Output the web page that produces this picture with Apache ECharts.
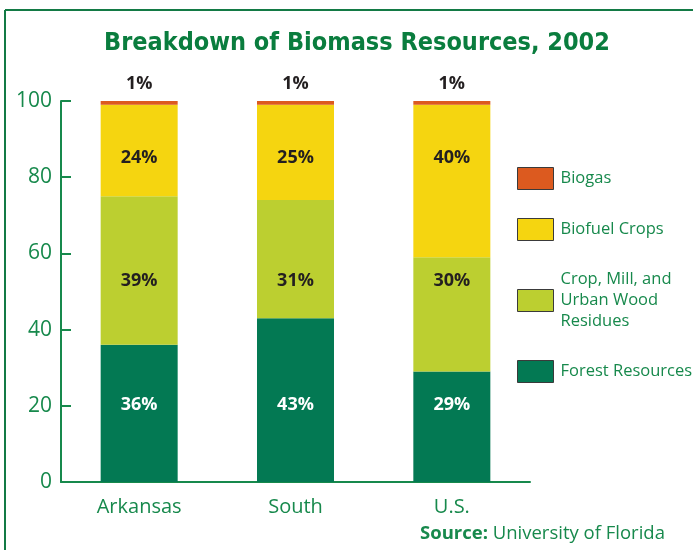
<!DOCTYPE html>
<html>
<head>
<meta charset="utf-8">
<script src="https://cdn.jsdelivr.net/npm/echarts@6/dist/echarts.min.js"></script>
<style>
  html, body { margin: 0; padding: 0; background: #fff; }
  #chart { width: 693px; height: 550px; }
</style>
</head>
<body>
<div id="chart"></div>
<script>
// regions on the x axis
const regions = ["Arkansas", "South", "U.S."];
// shares in percent, bottom to top
const forest = [36, 43, 29];
const residues = [39, 31, 30];
const biofuel = [24, 25, 40];
const biogas = [1, 1, 1];
const yTicks = [0, 20, 40, 60, 80, 100];

const green = "#17894c";
const darkText = "#231f20";

var chart = echarts.init(document.getElementById("chart"));

function seg(name, data, color) {
  return {
    name: name,
    type: "bar",
    stack: "total",
    barWidth: 77,
    data: data,
    itemStyle: { color: color },
  };
}

// the original prints the labels of each layer on one common height
function labels(data, level, color) {
  return {
    type: "scatter",
    symbolSize: 0,
    silent: true,
    z: 5,
    itemStyle: { opacity: 1 },
    data: data.map(function (v, i) {
      return { value: [regions[i], level], pct: v };
    }),
    label: {
      show: true,
      position: "inside",
      formatter: function (p) { return p.data.pct + "%"; },
      color: color,
      opacity: 1,
      fontFamily: "Open Sans",
      fontWeight: "bold",
      fontSize: 18,
    },
  };
}

chart.setOption({
  animation: false,
  title: {
    text: "Breakdown of Biomass Resources, 2002",
    left: 352,
    textAlign: "center",
    top: 26,
    textStyle: {
      color: "#0a7d3e",
      fontFamily: "DejaVu Sans Condensed",
      fontWeight: "bold",
      fontSize: 25,
    },
  },
  legend: {
    orient: "vertical",
    left: 512,
    top: 162,
    icon: "rect",
    itemWidth: 36,
    itemHeight: 22,
    itemGap: 28,
    data: ["Biogas", "Biofuel Crops", "Crop, Mill, and Urban Wood Residues", "Forest Resources"],
    formatter: function (n) {
      return n === "Crop, Mill, and Urban Wood Residues" ? "Crop, Mill, and\nUrban Wood\nResidues" : n;
    },
    itemStyle: { borderColor: "#3a3a3a", borderWidth: 1 },
    textStyle: {
      color: green,
      fontFamily: "Open Sans",
      fontSize: 16.5,
      lineHeight: 21,
      padding: [0, 0, 0, 2],
    },
  },
  grid: { left: 61, right: 163, top: 101, bottom: 68 },
  xAxis: {
    type: "category",
    data: regions,
    axisLine: { lineStyle: { color: green, width: 2 } },
    axisTick: { inside: true, length: 10, lineStyle: { color: green, width: 2 } },
    axisLabel: { color: green, fontFamily: "Open Sans", fontSize: 20, margin: 15 },
  },
  yAxis: {
    type: "value",
    min: yTicks[0],
    max: yTicks[yTicks.length - 1],
    interval: 20,
    splitLine: { show: false },
    axisLine: { show: true, lineStyle: { color: green, width: 2 } },
    axisTick: { show: true, inside: true, length: 10, lineStyle: { color: green, width: 2 } },
    axisLabel: { color: green, fontFamily: "Open Sans", fontSize: 21, margin: 9 },
  },
  series: [
    seg("Forest Resources", forest, "#037953"),
    seg("Crop, Mill, and Urban Wood Residues", residues, "#bccf30"),
    seg("Biofuel Crops", biofuel, "#f5d510"),
    Object.assign(seg("Biogas", biogas, "#dc5a1f"), {
      label: {
        show: true,
        position: "top",
        distance: 8,
        formatter: "{c}%",
        color: darkText,
        fontFamily: "Open Sans",
        fontWeight: "bold",
        fontSize: 18,
      },
    }),
    labels(forest, 20.2, "#ffffff"),
    labels(residues, 52.7, darkText),
    labels(biofuel, 85.2, darkText),
  ],
  graphic: [
    { type: "line", shape: { x1: 5, y1: 10, x2: 693, y2: 10 }, style: { stroke: "#137a45", lineWidth: 2 } },
    { type: "line", shape: { x1: 5, y1: 10, x2: 5, y2: 550 }, style: { stroke: "#137a45", lineWidth: 2 } },
    {
      type: "text",
      left: 420,
      top: 524,
      style: {
        text: "{b|Source:} University of Florida",
        fill: green,
        fontFamily: "Open Sans",
        fontSize: 18.5,
        rich: { b: { fontWeight: "bold", fontFamily: "Open Sans", fontSize: 18.5, fill: green } },
      },
    },
  ],
});
</script>
</body>
</html>
